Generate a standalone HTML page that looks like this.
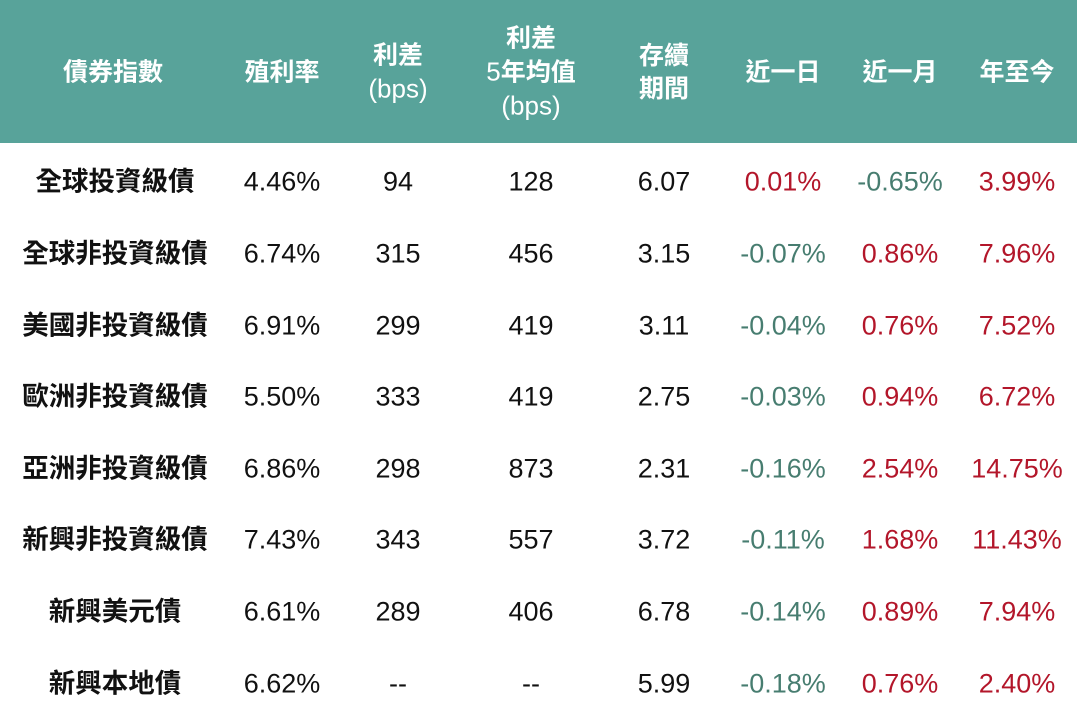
<!DOCTYPE html>
<html><head><meta charset="utf-8"><style>
body{margin:0;width:1077px;height:718px;background:#fff;position:relative;overflow:hidden;font-family:"Liberation Sans","Noto Sans CJK TC",sans-serif;}
.hd{position:absolute;left:0;top:0;width:1077px;height:143px;background:#58a39a;}
.c{position:absolute;transform:translate(-50%,-50%);text-align:center;white-space:nowrap;font-size:27px;line-height:33px;}
.h{color:#fff;font-weight:bold;font-size:25px;}
.h span{font-weight:normal;font-size:26px;}
.n{font-weight:bold;color:#111;font-size:26.5px;}
.v{color:#111;}
.r{color:#b3162a;}
.g{color:#477d70;}
</style></head><body>
<div class="hd"></div>
<div class="c h" style="left:113px;top:73px">債券指數</div>
<div class="c h" style="left:282px;top:73px">殖利率</div>
<div class="c h" style="left:398px;top:73px">利差<br><span>(bps)</span></div>
<div class="c h" style="left:531px;top:73px">利差<br><span>5</span>年均值<br><span>(bps)</span></div>
<div class="c h" style="left:664px;top:73px">存續<br>期間</div>
<div class="c h" style="left:783px;top:73px">近一日</div>
<div class="c h" style="left:900px;top:73px">近一月</div>
<div class="c h" style="left:1017px;top:73px">年至今</div>

<div class="c n" style="left:115px;top:182px">全球投資級債</div>
<div class="c v" style="left:282px;top:182px">4.46%</div>
<div class="c v" style="left:398px;top:182px">94</div>
<div class="c v" style="left:531px;top:182px">128</div>
<div class="c v" style="left:664px;top:182px">6.07</div>
<div class="c r" style="left:783px;top:182px">0.01%</div>
<div class="c g" style="left:900px;top:182px">-0.65%</div>
<div class="c r" style="left:1017px;top:182px">3.99%</div>

<div class="c n" style="left:115px;top:254px">全球非投資級債</div>
<div class="c v" style="left:282px;top:254px">6.74%</div>
<div class="c v" style="left:398px;top:254px">315</div>
<div class="c v" style="left:531px;top:254px">456</div>
<div class="c v" style="left:664px;top:254px">3.15</div>
<div class="c g" style="left:783px;top:254px">-0.07%</div>
<div class="c r" style="left:900px;top:254px">0.86%</div>
<div class="c r" style="left:1017px;top:254px">7.96%</div>

<div class="c n" style="left:115px;top:326px">美國非投資級債</div>
<div class="c v" style="left:282px;top:326px">6.91%</div>
<div class="c v" style="left:398px;top:326px">299</div>
<div class="c v" style="left:531px;top:326px">419</div>
<div class="c v" style="left:664px;top:326px">3.11</div>
<div class="c g" style="left:783px;top:326px">-0.04%</div>
<div class="c r" style="left:900px;top:326px">0.76%</div>
<div class="c r" style="left:1017px;top:326px">7.52%</div>

<div class="c n" style="left:115px;top:397px">歐洲非投資級債</div>
<div class="c v" style="left:282px;top:397px">5.50%</div>
<div class="c v" style="left:398px;top:397px">333</div>
<div class="c v" style="left:531px;top:397px">419</div>
<div class="c v" style="left:664px;top:397px">2.75</div>
<div class="c g" style="left:783px;top:397px">-0.03%</div>
<div class="c r" style="left:900px;top:397px">0.94%</div>
<div class="c r" style="left:1017px;top:397px">6.72%</div>

<div class="c n" style="left:115px;top:469px">亞洲非投資級債</div>
<div class="c v" style="left:282px;top:469px">6.86%</div>
<div class="c v" style="left:398px;top:469px">298</div>
<div class="c v" style="left:531px;top:469px">873</div>
<div class="c v" style="left:664px;top:469px">2.31</div>
<div class="c g" style="left:783px;top:469px">-0.16%</div>
<div class="c r" style="left:900px;top:469px">2.54%</div>
<div class="c r" style="left:1017px;top:469px">14.75%</div>

<div class="c n" style="left:115px;top:540px">新興非投資級債</div>
<div class="c v" style="left:282px;top:540px">7.43%</div>
<div class="c v" style="left:398px;top:540px">343</div>
<div class="c v" style="left:531px;top:540px">557</div>
<div class="c v" style="left:664px;top:540px">3.72</div>
<div class="c g" style="left:783px;top:540px">-0.11%</div>
<div class="c r" style="left:900px;top:540px">1.68%</div>
<div class="c r" style="left:1017px;top:540px">11.43%</div>

<div class="c n" style="left:115px;top:612px">新興美元債</div>
<div class="c v" style="left:282px;top:612px">6.61%</div>
<div class="c v" style="left:398px;top:612px">289</div>
<div class="c v" style="left:531px;top:612px">406</div>
<div class="c v" style="left:664px;top:612px">6.78</div>
<div class="c g" style="left:783px;top:612px">-0.14%</div>
<div class="c r" style="left:900px;top:612px">0.89%</div>
<div class="c r" style="left:1017px;top:612px">7.94%</div>

<div class="c n" style="left:115px;top:684px">新興本地債</div>
<div class="c v" style="left:282px;top:684px">6.62%</div>
<div class="c v" style="left:398px;top:684px">--</div>
<div class="c v" style="left:531px;top:684px">--</div>
<div class="c v" style="left:664px;top:684px">5.99</div>
<div class="c g" style="left:783px;top:684px">-0.18%</div>
<div class="c r" style="left:900px;top:684px">0.76%</div>
<div class="c r" style="left:1017px;top:684px">2.40%</div>
</body></html>
